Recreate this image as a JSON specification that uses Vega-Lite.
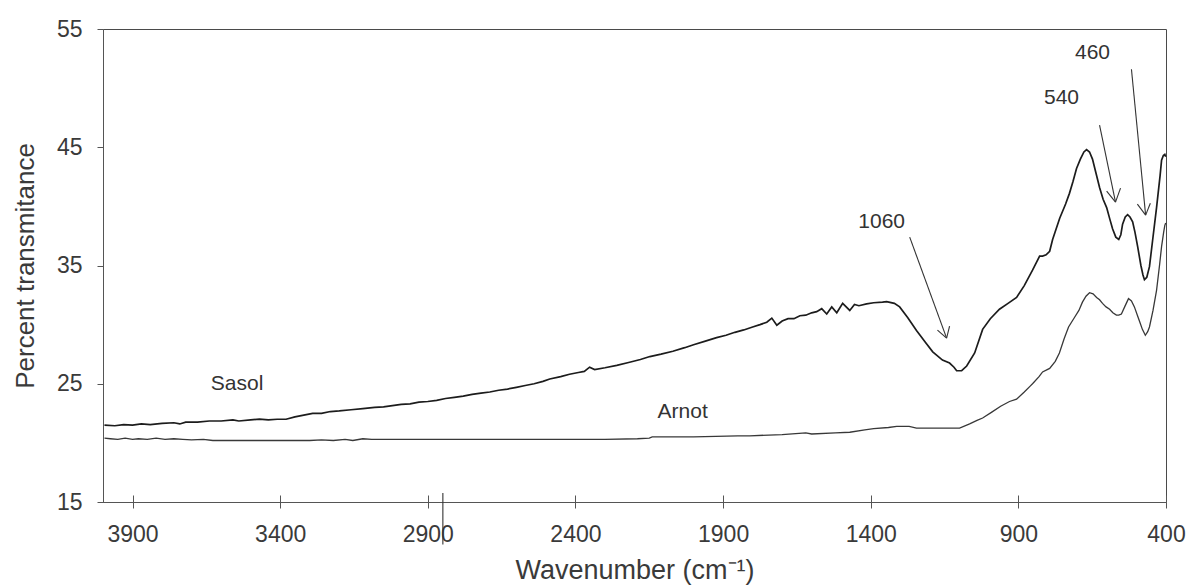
{
  "$schema": "https://vega.github.io/schema/vega-lite/v6.json",
  "width": 1063,
  "height": 473,
  "autosize": {"type": "none"},
  "padding": {"left": 103, "top": 29, "right": 24, "bottom": 86},
  "background": "white",
  "config": {
    "view": {"stroke": "#4a4a4a", "strokeWidth": 1},
    "font": "Liberation Sans",
    "axis": {"grid": false, "labelColor": "#3a3a3a", "titleColor": "#3a3a3a", "domainColor": "#555", "tickColor": "#555", "labelFont": "Liberation Sans", "titleFont": "Liberation Sans", "titleFontWeight": "normal"}
  },
  "datasets": {
    "spectra": [
      {"series": "Sasol", "wavenumber": 3995, "transmittance": 21.5},
      {"series": "Sasol", "wavenumber": 3960, "transmittance": 21.45},
      {"series": "Sasol", "wavenumber": 3930, "transmittance": 21.55},
      {"series": "Sasol", "wavenumber": 3900, "transmittance": 21.5},
      {"series": "Sasol", "wavenumber": 3870, "transmittance": 21.6},
      {"series": "Sasol", "wavenumber": 3840, "transmittance": 21.55},
      {"series": "Sasol", "wavenumber": 3800, "transmittance": 21.65},
      {"series": "Sasol", "wavenumber": 3760, "transmittance": 21.7},
      {"series": "Sasol", "wavenumber": 3740, "transmittance": 21.6},
      {"series": "Sasol", "wavenumber": 3720, "transmittance": 21.75},
      {"series": "Sasol", "wavenumber": 3680, "transmittance": 21.75},
      {"series": "Sasol", "wavenumber": 3640, "transmittance": 21.85},
      {"series": "Sasol", "wavenumber": 3600, "transmittance": 21.85},
      {"series": "Sasol", "wavenumber": 3560, "transmittance": 21.95},
      {"series": "Sasol", "wavenumber": 3540, "transmittance": 21.85},
      {"series": "Sasol", "wavenumber": 3500, "transmittance": 21.95},
      {"series": "Sasol", "wavenumber": 3470, "transmittance": 22.0},
      {"series": "Sasol", "wavenumber": 3440, "transmittance": 21.95},
      {"series": "Sasol", "wavenumber": 3410, "transmittance": 22.0},
      {"series": "Sasol", "wavenumber": 3380, "transmittance": 22.0},
      {"series": "Sasol", "wavenumber": 3350, "transmittance": 22.2},
      {"series": "Sasol", "wavenumber": 3320, "transmittance": 22.35},
      {"series": "Sasol", "wavenumber": 3290, "transmittance": 22.5},
      {"series": "Sasol", "wavenumber": 3260, "transmittance": 22.5},
      {"series": "Sasol", "wavenumber": 3230, "transmittance": 22.65},
      {"series": "Sasol", "wavenumber": 3200, "transmittance": 22.7},
      {"series": "Sasol", "wavenumber": 3160, "transmittance": 22.8},
      {"series": "Sasol", "wavenumber": 3120, "transmittance": 22.9},
      {"series": "Sasol", "wavenumber": 3080, "transmittance": 23.0},
      {"series": "Sasol", "wavenumber": 3050, "transmittance": 23.05},
      {"series": "Sasol", "wavenumber": 3020, "transmittance": 23.15},
      {"series": "Sasol", "wavenumber": 2990, "transmittance": 23.25},
      {"series": "Sasol", "wavenumber": 2960, "transmittance": 23.3},
      {"series": "Sasol", "wavenumber": 2930, "transmittance": 23.45},
      {"series": "Sasol", "wavenumber": 2900, "transmittance": 23.5},
      {"series": "Sasol", "wavenumber": 2870, "transmittance": 23.6},
      {"series": "Sasol", "wavenumber": 2840, "transmittance": 23.75},
      {"series": "Sasol", "wavenumber": 2810, "transmittance": 23.85},
      {"series": "Sasol", "wavenumber": 2780, "transmittance": 23.95},
      {"series": "Sasol", "wavenumber": 2750, "transmittance": 24.1},
      {"series": "Sasol", "wavenumber": 2720, "transmittance": 24.2},
      {"series": "Sasol", "wavenumber": 2690, "transmittance": 24.3},
      {"series": "Sasol", "wavenumber": 2660, "transmittance": 24.45},
      {"series": "Sasol", "wavenumber": 2630, "transmittance": 24.55},
      {"series": "Sasol", "wavenumber": 2600, "transmittance": 24.7},
      {"series": "Sasol", "wavenumber": 2570, "transmittance": 24.85},
      {"series": "Sasol", "wavenumber": 2540, "transmittance": 25.0},
      {"series": "Sasol", "wavenumber": 2510, "transmittance": 25.2},
      {"series": "Sasol", "wavenumber": 2487, "transmittance": 25.4},
      {"series": "Sasol", "wavenumber": 2450, "transmittance": 25.6},
      {"series": "Sasol", "wavenumber": 2420, "transmittance": 25.8},
      {"series": "Sasol", "wavenumber": 2390, "transmittance": 25.95},
      {"series": "Sasol", "wavenumber": 2370, "transmittance": 26.05},
      {"series": "Sasol", "wavenumber": 2352, "transmittance": 26.4},
      {"series": "Sasol", "wavenumber": 2335, "transmittance": 26.2},
      {"series": "Sasol", "wavenumber": 2300, "transmittance": 26.35},
      {"series": "Sasol", "wavenumber": 2260, "transmittance": 26.55},
      {"series": "Sasol", "wavenumber": 2220, "transmittance": 26.8},
      {"series": "Sasol", "wavenumber": 2180, "transmittance": 27.05},
      {"series": "Sasol", "wavenumber": 2148, "transmittance": 27.3},
      {"series": "Sasol", "wavenumber": 2110, "transmittance": 27.5},
      {"series": "Sasol", "wavenumber": 2070, "transmittance": 27.75},
      {"series": "Sasol", "wavenumber": 2030, "transmittance": 28.05},
      {"series": "Sasol", "wavenumber": 2000, "transmittance": 28.3},
      {"series": "Sasol", "wavenumber": 1960, "transmittance": 28.6},
      {"series": "Sasol", "wavenumber": 1922, "transmittance": 28.9},
      {"series": "Sasol", "wavenumber": 1890, "transmittance": 29.1},
      {"series": "Sasol", "wavenumber": 1860, "transmittance": 29.35},
      {"series": "Sasol", "wavenumber": 1830, "transmittance": 29.55},
      {"series": "Sasol", "wavenumber": 1800, "transmittance": 29.8},
      {"series": "Sasol", "wavenumber": 1775, "transmittance": 30.0},
      {"series": "Sasol", "wavenumber": 1752, "transmittance": 30.2},
      {"series": "Sasol", "wavenumber": 1735, "transmittance": 30.55},
      {"series": "Sasol", "wavenumber": 1718, "transmittance": 29.95},
      {"series": "Sasol", "wavenumber": 1700, "transmittance": 30.3},
      {"series": "Sasol", "wavenumber": 1680, "transmittance": 30.5},
      {"series": "Sasol", "wavenumber": 1660, "transmittance": 30.5},
      {"series": "Sasol", "wavenumber": 1640, "transmittance": 30.75},
      {"series": "Sasol", "wavenumber": 1620, "transmittance": 30.8},
      {"series": "Sasol", "wavenumber": 1600, "transmittance": 31.0},
      {"series": "Sasol", "wavenumber": 1583, "transmittance": 31.1},
      {"series": "Sasol", "wavenumber": 1566, "transmittance": 31.35},
      {"series": "Sasol", "wavenumber": 1549, "transmittance": 30.9},
      {"series": "Sasol", "wavenumber": 1532, "transmittance": 31.5},
      {"series": "Sasol", "wavenumber": 1515, "transmittance": 31.0},
      {"series": "Sasol", "wavenumber": 1495, "transmittance": 31.8},
      {"series": "Sasol", "wavenumber": 1471, "transmittance": 31.2},
      {"series": "Sasol", "wavenumber": 1455, "transmittance": 31.7},
      {"series": "Sasol", "wavenumber": 1440, "transmittance": 31.6},
      {"series": "Sasol", "wavenumber": 1414, "transmittance": 31.75},
      {"series": "Sasol", "wavenumber": 1390, "transmittance": 31.85},
      {"series": "Sasol", "wavenumber": 1360, "transmittance": 31.9},
      {"series": "Sasol", "wavenumber": 1346, "transmittance": 31.95},
      {"series": "Sasol", "wavenumber": 1320, "transmittance": 31.8},
      {"series": "Sasol", "wavenumber": 1302, "transmittance": 31.5},
      {"series": "Sasol", "wavenumber": 1275, "transmittance": 30.6},
      {"series": "Sasol", "wavenumber": 1245, "transmittance": 29.5},
      {"series": "Sasol", "wavenumber": 1215, "transmittance": 28.5},
      {"series": "Sasol", "wavenumber": 1190, "transmittance": 27.7},
      {"series": "Sasol", "wavenumber": 1157, "transmittance": 27.0},
      {"series": "Sasol", "wavenumber": 1133, "transmittance": 26.75},
      {"series": "Sasol", "wavenumber": 1118, "transmittance": 26.4},
      {"series": "Sasol", "wavenumber": 1109, "transmittance": 26.1},
      {"series": "Sasol", "wavenumber": 1092, "transmittance": 26.1},
      {"series": "Sasol", "wavenumber": 1075, "transmittance": 26.5},
      {"series": "Sasol", "wavenumber": 1048, "transmittance": 27.6},
      {"series": "Sasol", "wavenumber": 1021, "transmittance": 29.6},
      {"series": "Sasol", "wavenumber": 995, "transmittance": 30.5},
      {"series": "Sasol", "wavenumber": 964, "transmittance": 31.3},
      {"series": "Sasol", "wavenumber": 935, "transmittance": 31.8},
      {"series": "Sasol", "wavenumber": 906, "transmittance": 32.3},
      {"series": "Sasol", "wavenumber": 880, "transmittance": 33.3},
      {"series": "Sasol", "wavenumber": 852, "transmittance": 34.6},
      {"series": "Sasol", "wavenumber": 840, "transmittance": 35.2},
      {"series": "Sasol", "wavenumber": 828, "transmittance": 35.8},
      {"series": "Sasol", "wavenumber": 818, "transmittance": 35.8},
      {"series": "Sasol", "wavenumber": 806, "transmittance": 35.9},
      {"series": "Sasol", "wavenumber": 794, "transmittance": 36.2},
      {"series": "Sasol", "wavenumber": 784, "transmittance": 37.2},
      {"series": "Sasol", "wavenumber": 760, "transmittance": 39.0},
      {"series": "Sasol", "wavenumber": 740, "transmittance": 40.2},
      {"series": "Sasol", "wavenumber": 727, "transmittance": 41.1},
      {"series": "Sasol", "wavenumber": 715, "transmittance": 42.1},
      {"series": "Sasol", "wavenumber": 703, "transmittance": 43.2},
      {"series": "Sasol", "wavenumber": 690, "transmittance": 44.0},
      {"series": "Sasol", "wavenumber": 678, "transmittance": 44.6},
      {"series": "Sasol", "wavenumber": 669, "transmittance": 44.8},
      {"series": "Sasol", "wavenumber": 659, "transmittance": 44.6},
      {"series": "Sasol", "wavenumber": 649, "transmittance": 44.0},
      {"series": "Sasol", "wavenumber": 637, "transmittance": 42.8},
      {"series": "Sasol", "wavenumber": 625, "transmittance": 41.6},
      {"series": "Sasol", "wavenumber": 613, "transmittance": 40.6},
      {"series": "Sasol", "wavenumber": 601, "transmittance": 39.9},
      {"series": "Sasol", "wavenumber": 590, "transmittance": 38.9},
      {"series": "Sasol", "wavenumber": 581, "transmittance": 38.1},
      {"series": "Sasol", "wavenumber": 570, "transmittance": 37.4},
      {"series": "Sasol", "wavenumber": 560, "transmittance": 37.2},
      {"series": "Sasol", "wavenumber": 553, "transmittance": 37.6},
      {"series": "Sasol", "wavenumber": 547, "transmittance": 38.5},
      {"series": "Sasol", "wavenumber": 538, "transmittance": 39.1},
      {"series": "Sasol", "wavenumber": 530, "transmittance": 39.3},
      {"series": "Sasol", "wavenumber": 522, "transmittance": 39.1},
      {"series": "Sasol", "wavenumber": 513, "transmittance": 38.7},
      {"series": "Sasol", "wavenumber": 505, "transmittance": 37.8},
      {"series": "Sasol", "wavenumber": 496, "transmittance": 36.6},
      {"series": "Sasol", "wavenumber": 485, "transmittance": 35.0},
      {"series": "Sasol", "wavenumber": 478, "transmittance": 34.2},
      {"series": "Sasol", "wavenumber": 473, "transmittance": 33.8},
      {"series": "Sasol", "wavenumber": 465, "transmittance": 34.0},
      {"series": "Sasol", "wavenumber": 456, "transmittance": 34.9},
      {"series": "Sasol", "wavenumber": 445, "transmittance": 37.2},
      {"series": "Sasol", "wavenumber": 432, "transmittance": 39.9},
      {"series": "Sasol", "wavenumber": 420, "transmittance": 42.6},
      {"series": "Sasol", "wavenumber": 415, "transmittance": 43.9},
      {"series": "Sasol", "wavenumber": 409, "transmittance": 44.3},
      {"series": "Sasol", "wavenumber": 404, "transmittance": 44.4},
      {"series": "Sasol", "wavenumber": 401, "transmittance": 44.2},
      {"series": "Arnot", "wavenumber": 3995, "transmittance": 20.4},
      {"series": "Arnot", "wavenumber": 3975, "transmittance": 20.35},
      {"series": "Arnot", "wavenumber": 3950, "transmittance": 20.3},
      {"series": "Arnot", "wavenumber": 3925, "transmittance": 20.4},
      {"series": "Arnot", "wavenumber": 3900, "transmittance": 20.3},
      {"series": "Arnot", "wavenumber": 3880, "transmittance": 20.35},
      {"series": "Arnot", "wavenumber": 3850, "transmittance": 20.3},
      {"series": "Arnot", "wavenumber": 3820, "transmittance": 20.4},
      {"series": "Arnot", "wavenumber": 3790, "transmittance": 20.3},
      {"series": "Arnot", "wavenumber": 3760, "transmittance": 20.35},
      {"series": "Arnot", "wavenumber": 3730, "transmittance": 20.3},
      {"series": "Arnot", "wavenumber": 3700, "transmittance": 20.25},
      {"series": "Arnot", "wavenumber": 3660, "transmittance": 20.3},
      {"series": "Arnot", "wavenumber": 3628, "transmittance": 20.2},
      {"series": "Arnot", "wavenumber": 3580, "transmittance": 20.2},
      {"series": "Arnot", "wavenumber": 3500, "transmittance": 20.2},
      {"series": "Arnot", "wavenumber": 3400, "transmittance": 20.2},
      {"series": "Arnot", "wavenumber": 3300, "transmittance": 20.2},
      {"series": "Arnot", "wavenumber": 3260, "transmittance": 20.25},
      {"series": "Arnot", "wavenumber": 3220, "transmittance": 20.2},
      {"series": "Arnot", "wavenumber": 3180, "transmittance": 20.3},
      {"series": "Arnot", "wavenumber": 3154, "transmittance": 20.2},
      {"series": "Arnot", "wavenumber": 3120, "transmittance": 20.35},
      {"series": "Arnot", "wavenumber": 3090, "transmittance": 20.3},
      {"series": "Arnot", "wavenumber": 3000, "transmittance": 20.3},
      {"series": "Arnot", "wavenumber": 2900, "transmittance": 20.3},
      {"series": "Arnot", "wavenumber": 2800, "transmittance": 20.3},
      {"series": "Arnot", "wavenumber": 2700, "transmittance": 20.3},
      {"series": "Arnot", "wavenumber": 2600, "transmittance": 20.3},
      {"series": "Arnot", "wavenumber": 2487, "transmittance": 20.3},
      {"series": "Arnot", "wavenumber": 2300, "transmittance": 20.3},
      {"series": "Arnot", "wavenumber": 2190, "transmittance": 20.35},
      {"series": "Arnot", "wavenumber": 2150, "transmittance": 20.4},
      {"series": "Arnot", "wavenumber": 2140, "transmittance": 20.5},
      {"series": "Arnot", "wavenumber": 2000, "transmittance": 20.5},
      {"series": "Arnot", "wavenumber": 1850, "transmittance": 20.6},
      {"series": "Arnot", "wavenumber": 1810, "transmittance": 20.6},
      {"series": "Arnot", "wavenumber": 1700, "transmittance": 20.7},
      {"series": "Arnot", "wavenumber": 1620, "transmittance": 20.85},
      {"series": "Arnot", "wavenumber": 1600, "transmittance": 20.75},
      {"series": "Arnot", "wavenumber": 1520, "transmittance": 20.85},
      {"series": "Arnot", "wavenumber": 1471, "transmittance": 20.9},
      {"series": "Arnot", "wavenumber": 1420, "transmittance": 21.1},
      {"series": "Arnot", "wavenumber": 1390, "transmittance": 21.2},
      {"series": "Arnot", "wavenumber": 1340, "transmittance": 21.3},
      {"series": "Arnot", "wavenumber": 1312, "transmittance": 21.4},
      {"series": "Arnot", "wavenumber": 1270, "transmittance": 21.4},
      {"series": "Arnot", "wavenumber": 1245, "transmittance": 21.25},
      {"series": "Arnot", "wavenumber": 1200, "transmittance": 21.25},
      {"series": "Arnot", "wavenumber": 1150, "transmittance": 21.25},
      {"series": "Arnot", "wavenumber": 1099, "transmittance": 21.25},
      {"series": "Arnot", "wavenumber": 1065, "transmittance": 21.6},
      {"series": "Arnot", "wavenumber": 1040, "transmittance": 21.9},
      {"series": "Arnot", "wavenumber": 1021, "transmittance": 22.1},
      {"series": "Arnot", "wavenumber": 990, "transmittance": 22.6},
      {"series": "Arnot", "wavenumber": 960, "transmittance": 23.1},
      {"series": "Arnot", "wavenumber": 930, "transmittance": 23.5},
      {"series": "Arnot", "wavenumber": 906, "transmittance": 23.7},
      {"series": "Arnot", "wavenumber": 880, "transmittance": 24.3},
      {"series": "Arnot", "wavenumber": 860, "transmittance": 24.8},
      {"series": "Arnot", "wavenumber": 852, "transmittance": 25.0},
      {"series": "Arnot", "wavenumber": 830, "transmittance": 25.6},
      {"series": "Arnot", "wavenumber": 818, "transmittance": 26.0},
      {"series": "Arnot", "wavenumber": 794, "transmittance": 26.3},
      {"series": "Arnot", "wavenumber": 775, "transmittance": 26.9},
      {"series": "Arnot", "wavenumber": 761, "transmittance": 27.6},
      {"series": "Arnot", "wavenumber": 745, "transmittance": 28.8},
      {"series": "Arnot", "wavenumber": 730, "transmittance": 29.8},
      {"series": "Arnot", "wavenumber": 710, "transmittance": 30.6},
      {"series": "Arnot", "wavenumber": 695, "transmittance": 31.2},
      {"series": "Arnot", "wavenumber": 683, "transmittance": 31.9},
      {"series": "Arnot", "wavenumber": 671, "transmittance": 32.4},
      {"series": "Arnot", "wavenumber": 659, "transmittance": 32.7},
      {"series": "Arnot", "wavenumber": 647, "transmittance": 32.6},
      {"series": "Arnot", "wavenumber": 635, "transmittance": 32.3},
      {"series": "Arnot", "wavenumber": 625, "transmittance": 32.1},
      {"series": "Arnot", "wavenumber": 615, "transmittance": 31.8},
      {"series": "Arnot", "wavenumber": 603, "transmittance": 31.5},
      {"series": "Arnot", "wavenumber": 591, "transmittance": 31.3},
      {"series": "Arnot", "wavenumber": 580, "transmittance": 31.0},
      {"series": "Arnot", "wavenumber": 568, "transmittance": 30.8},
      {"series": "Arnot", "wavenumber": 560, "transmittance": 30.8},
      {"series": "Arnot", "wavenumber": 551, "transmittance": 30.9},
      {"series": "Arnot", "wavenumber": 540, "transmittance": 31.5},
      {"series": "Arnot", "wavenumber": 527, "transmittance": 32.2},
      {"series": "Arnot", "wavenumber": 517, "transmittance": 32.0},
      {"series": "Arnot", "wavenumber": 507, "transmittance": 31.5},
      {"series": "Arnot", "wavenumber": 497, "transmittance": 30.8},
      {"series": "Arnot", "wavenumber": 490, "transmittance": 30.3},
      {"series": "Arnot", "wavenumber": 480, "transmittance": 29.6},
      {"series": "Arnot", "wavenumber": 470, "transmittance": 29.1},
      {"series": "Arnot", "wavenumber": 462, "transmittance": 29.4},
      {"series": "Arnot", "wavenumber": 456, "transmittance": 29.8},
      {"series": "Arnot", "wavenumber": 444, "transmittance": 31.2},
      {"series": "Arnot", "wavenumber": 432, "transmittance": 32.9},
      {"series": "Arnot", "wavenumber": 422, "transmittance": 35.0},
      {"series": "Arnot", "wavenumber": 415, "transmittance": 36.6},
      {"series": "Arnot", "wavenumber": 408, "transmittance": 37.8},
      {"series": "Arnot", "wavenumber": 404, "transmittance": 38.4},
      {"series": "Arnot", "wavenumber": 401, "transmittance": 38.6}
    ],
    "pointers": [
      {"part": "1060 shaft", "wavenumber": 1268, "transmittance": 37.4, "wavenumber_end": 1143, "transmittance_end": 28.86},
      {"part": "1060 head left", "wavenumber": 1174, "transmittance": 29.54, "wavenumber_end": 1143, "transmittance_end": 28.86},
      {"part": "1060 head right", "wavenumber": 1133, "transmittance": 29.88, "wavenumber_end": 1143, "transmittance_end": 28.86},
      {"part": "540 shaft", "wavenumber": 625, "transmittance": 46.87, "wavenumber_end": 571, "transmittance_end": 40.36},
      {"part": "540 head left", "wavenumber": 601, "transmittance": 41.29, "wavenumber_end": 571, "transmittance_end": 40.36},
      {"part": "540 head right", "wavenumber": 554, "transmittance": 41.54, "wavenumber_end": 571, "transmittance_end": 40.36},
      {"part": "460 shaft", "wavenumber": 517, "transmittance": 51.6, "wavenumber_end": 469, "transmittance_end": 39.26},
      {"part": "460 head left", "wavenumber": 497, "transmittance": 40.19, "wavenumber_end": 469, "transmittance_end": 39.26},
      {"part": "460 head right", "wavenumber": 453, "transmittance": 40.27, "wavenumber_end": 469, "transmittance_end": 39.26},
      {"part": "stray line", "wavenumber": 2849, "transmittance": 15.76, "wavenumber_end": 2849, "transmittance_end": 11.4}
    ],
    "labels": [
      {"label": "Sasol", "wavenumber": 3546, "transmittance": 25.0},
      {"label": "Arnot", "wavenumber": 2037, "transmittance": 22.6},
      {"label": "1060", "wavenumber": 1363, "transmittance": 38.7},
      {"label": "540", "wavenumber": 754, "transmittance": 49.15},
      {"label": "460", "wavenumber": 649, "transmittance": 52.95}
    ]
  },
  "resolve": {"axis": {"x": "independent"}},
  "encoding": {
    "y": {
      "field": "transmittance", "type": "quantitative",
      "scale": {"domain": [15, 55], "nice": false, "zero": false},
      "axis": {
        "title": "Percent transmitance", "values": [15, 25, 35, 45, 55],
        "labelFontSize": 23, "titleFontSize": 26, "tickSize": 6,
        "labelPadding": 15, "titlePadding": 18, "labelFlush": false, "labelOverlap": false
      }
    }
  },
  "layer": [
    {
      "data": {"name": "spectra"},
      "mark": {"type": "line", "interpolate": "linear"},
      "encoding": {
        "x": {
          "field": "wavenumber", "type": "quantitative",
          "scale": {"domain": [400, 4000], "reverse": true, "nice": false, "zero": false},
          "axis": {
            "title": "Wavenumber (cm⁻¹)", "values": [3900, 3400, 2900, 2400, 1900, 1400, 900, 400],
            "format": "d", "labelFontSize": 23, "titleFontSize": 27, "tickSize": 6,
            "labelPadding": 15, "titlePadding": 11, "labelFlush": false, "labelOverlap": false
          }
        },
        "color": {
          "field": "series", "type": "nominal",
          "scale": {"domain": ["Sasol", "Arnot"], "range": ["#1c1c1c", "#383838"]},
          "legend": null
        },
        "strokeWidth": {
          "field": "series", "type": "nominal",
          "scale": {"domain": ["Sasol", "Arnot"], "range": [1.7, 1.3]},
          "legend": null
        }
      }
    },
    {
      "data": {"name": "pointers"},
      "mark": {"type": "rule", "color": "#333", "strokeWidth": 1.1},
      "encoding": {
        "x": {
          "field": "wavenumber", "type": "quantitative",
          "axis": {
            "orient": "bottom", "values": [3900, 3400, 2900, 2400, 1900, 1400, 900, 400],
            "tickSize": -7, "labels": false, "domain": false, "title": null
          }
        },
        "x2": {"field": "wavenumber_end"},
        "y2": {"field": "transmittance_end"}
      }
    },
    {
      "data": {"name": "labels"},
      "mark": {"type": "text", "fontSize": 21, "color": "#333", "align": "center", "baseline": "middle", "font": "Liberation Sans"},
      "encoding": {
        "x": {"field": "wavenumber", "type": "quantitative", "axis": null},
        "text": {"field": "label"}
      }
    }
  ]
}
